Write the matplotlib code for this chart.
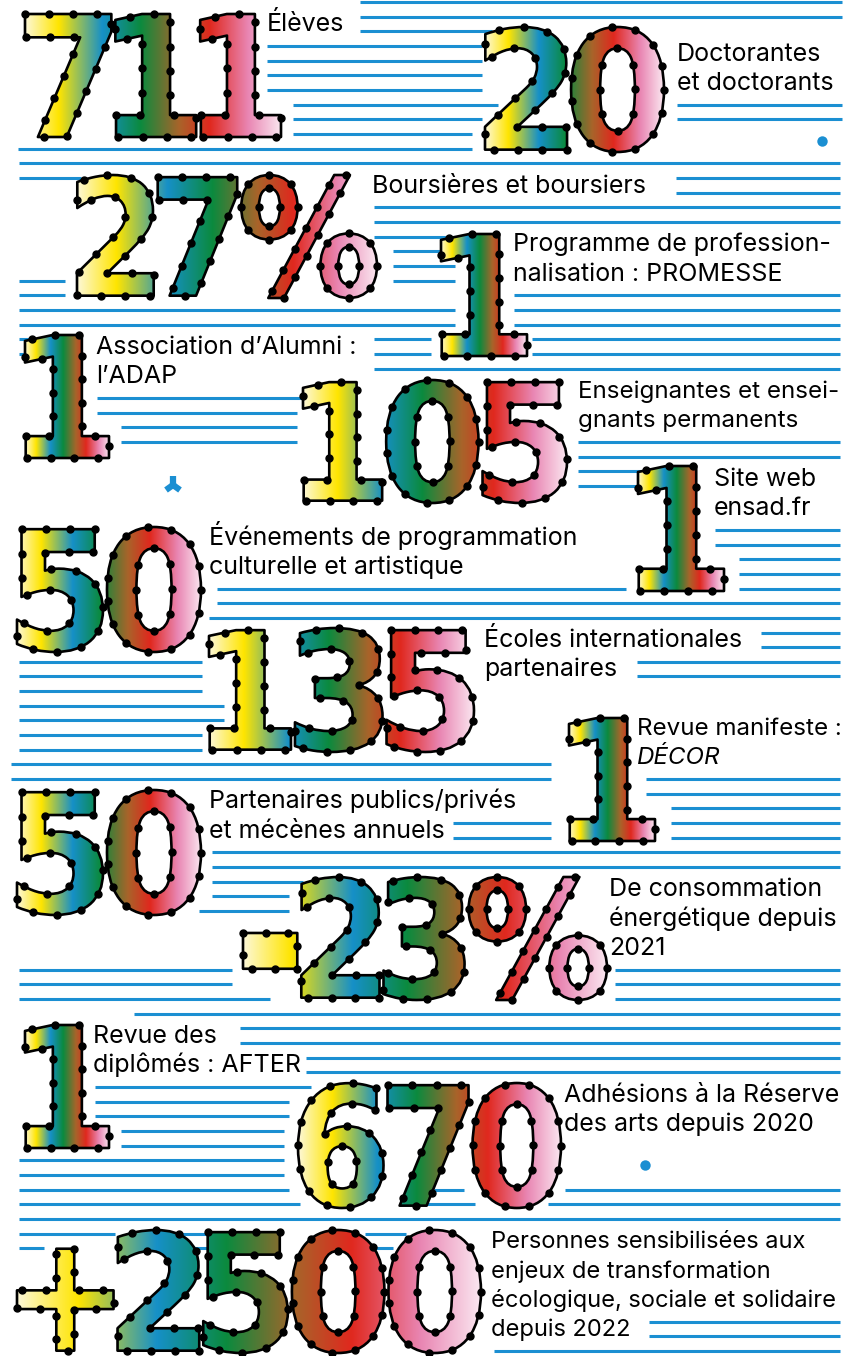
import numpy as np
import matplotlib
matplotlib.use("Agg")
import matplotlib.pyplot as plt
from matplotlib.textpath import TextPath
from matplotlib.font_manager import FontProperties
from matplotlib.patches import PathPatch
from matplotlib.path import Path as MPath
from matplotlib.transforms import Affine2D
from matplotlib.colors import LinearSegmentedColormap

# --- chiffres clés et libellés ---
numbers = ["711", "20", "27%", "1", "1", "105", "1", "50", "135", "1",
           "50", "-23%", "1", "670", "+2500"]
labels = [
    ["Élèves"],
    ["Doctorantes", "et doctorants"],
    ["Boursières et boursiers"],
    ["Programme de profession-", "nalisation : PROMESSE"],
    ["Association d’Alumni :", "l’ADAP"],
    ["Enseignantes et ensei-", "gnants permanents"],
    ["Site web", "ensad.fr"],
    ["Événements de programmation", "culturelle et artistique"],
    ["Écoles internationales", "partenaires"],
    ["Revue manifeste :", "DÉCOR"],
    ["Partenaires publics/privés", "et mécènes annuels"],
    ["De consommation", "énergétique depuis", "2021"],
    ["Revue des", "diplômés : AFTER"],
    ["Adhésions à la Réserve", "des arts depuis 2020"],
    ["Personnes sensibilisées aux", "enjeux de transformation",
     "écologique, sociale et solidaire", "depuis 2022"],
]

# --- mise en page (pixels, y vers le bas) ---
number_boxes = [
    (25, 14, 281, 137), (485, 27, 664, 152), (77, 175, 377, 298),
    (441, 234, 527, 356), (25, 335, 109, 458), (303, 380, 567, 503),
    (638, 466, 724, 591), (17, 527, 201, 652), (209, 628, 474, 752),
    (569, 718, 655, 841), (17, 790, 201, 915), (243, 877, 607, 1000),
    (25, 1025, 109, 1148), (298, 1083, 561, 1208), (17, 1230, 481, 1353),
]
label_x = [267, 677, 372, 513, 96, 578, 714, 209, 484, 637, 209, 609, 93, 564, 491]
label_row = [2, 4, 13, 17, 24, 27, 33, 37, 44, 50, 55, 61, 71, 75, 85]
label_size = [18, 18, 18, 18, 18, 17.4, 18, 18, 18, 17.4, 18, 18, 18, 18, 17]

# lignes bleues : rangée -> segments (x0, x1)
line_rows = {
    0: [(360, 842)], 1: [(360, 842)], 2: [(360, 492)],
    3: [(267, 482)], 4: [(267, 482)], 5: [(267, 482)], 6: [(267, 482)],
    7: [(293, 498), (677, 842)], 8: [(293, 482), (677, 842)],
    9: [(293, 472)], 10: [(18, 472)], 11: [(19, 840)],
    12: [(19, 81), (676, 840)], 13: [(676, 840)],
    14: [(374, 840)], 15: [(374, 840)], 16: [(374, 455)],
    17: [(393, 455)], 18: [(393, 455)], 19: [(19, 65), (393, 455)],
    20: [(19, 65), (514, 840)], 21: [(19, 455), (514, 840)],
    22: [(19, 455), (514, 840)],
    23: [(19, 49), (374, 431), (532, 840)],
    24: [(19, 41), (374, 431), (532, 840)],
    25: [(374, 840)],
    27: [(97, 319)], 28: [(97, 297)], 29: [(121, 297)],
    30: [(121, 297), (578, 840)], 31: [(578, 840)],
    32: [(578, 660)], 33: [(578, 660)],
    36: [(715, 840)], 37: [(715, 840)], 38: [(739, 840)], 39: [(739, 840)],
    40: [(217, 626), (739, 840)], 41: [(217, 840)], 42: [(209, 840)],
    43: [(761, 840)], 44: [(761, 840)],
    45: [(19, 202), (637, 840)], 46: [(19, 202), (637, 840)],
    47: [(19, 202)], 48: [(19, 224)], 49: [(19, 224)],
    50: [(19, 202)], 51: [(19, 202)],
    52: [(11, 551)], 53: [(11, 551), (646, 840)], 54: [(646, 840)],
    55: [(671, 840)], 56: [(453, 551), (671, 840)], 57: [(453, 551), (671, 840)],
    58: [(212, 840)], 59: [(212, 840)], 60: [(212, 303)],
    61: [(212, 289)], 62: [(199, 289)],
    66: [(19, 232), (615, 840)], 67: [(19, 232), (615, 840)],
    68: [(19, 270), (615, 840)],
    69: [(134, 840)], 70: [(240, 840)], 71: [(240, 840)],
    72: [(306, 840)], 73: [(306, 840)],
    74: [(95, 311)], 75: [(95, 289)], 76: [(95, 289)],
    77: [(121, 284)], 78: [(121, 284)], 79: [(19, 284)], 80: [(19, 284)],
    81: [(19, 289), (434, 464), (565, 840)],
    82: [(19, 300), (425, 475), (548, 840)],
    83: [(19, 840)],
    84: [(19, 115), (180, 218), (365, 406)],
    85: [(19, 44), (191, 218), (365, 393)],
    90: [(649, 840)], 91: [(649, 840)], 92: [(494, 840)],
}

BLUE = "#1b8fd2"
ROW0, ROW_STEP = 2.0, 14.663

grad = LinearSegmentedColormap.from_list("ensad", [
    (0.00, "#fdf8d6"), (0.13, "#ffe500"), (0.30, "#1690c8"),
    (0.45, "#0b8a3e"), (0.60, "#a8642a"), (0.72, "#e0281e"),
    (0.87, "#e986b3"), (1.00, "#fbe8f1")])

fig = plt.figure(figsize=(8.55, 13.56), dpi=100)
ax = fig.add_axes([0, 0, 1, 1])
ax.axis("off")


def row_y(k):
    return ROW0 + ROW_STEP * k


# fond de lignes
for k, segs in line_rows.items():
    for x0, x1 in segs:
        ax.plot([x0, x1], [row_y(k)] * 2, color=BLUE, lw=2.2,
                solid_capstyle="butt", zorder=1)

# petits éléments bleus
ax.plot([822, 645], [141, 1165], "o", color=BLUE, ms=7.5, mec="none", zorder=1)
ax.plot([173], [485], marker="2", color=BLUE, ms=13, mew=4.5, zorder=1)

fp = FontProperties(family="DejaVu Sans", weight="bold")
GAP = 4  # px entre deux chiffres


def big_number(s, box):
    x0, y0, x1, y1 = box
    glyphs = [TextPath((0, 0), c, size=100, prop=fp) for c in s]
    # le tiret est épaissi pour ressembler à la référence
    for i, c in enumerate(s):
        if c == "-":
            e = glyphs[i].get_extents()
            cy = (e.y0 + e.y1) / 2
            glyphs[i] = Affine2D().translate(0, -cy).scale(1.2, 1.55).translate(0, cy).transform_path(glyphs[i])
    exts = [g.get_extents() for g in glyphs]
    top = max(e.y1 for e in exts)
    bot = min(e.y0 for e in exts)
    total = sum(e.width for e in exts)
    sx = (x1 - x0 - GAP * (len(s) - 1)) / total
    sy = (y1 - y0) / (top - bot)
    parts = []
    cursor = x0
    for g, e in zip(glyphs, exts):
        tr = Affine2D().translate(-e.x0, -top).scale(sx, -sy).translate(cursor, y0)
        parts.append(tr.transform_path(g))
        cursor += e.width * sx + GAP
    path = MPath.make_compound_path(*parts)
    patch = PathPatch(path, facecolor="none", edgecolor="black", lw=1.9,
                      joinstyle="round", zorder=3)
    ax.add_patch(patch)
    im = ax.imshow(np.linspace(0, 1, 256).reshape(1, -1), cmap=grad,
                   extent=(x0, x1, y1, y0), aspect="auto",
                   interpolation="bilinear", zorder=2)
    im.set_clip_path(patch)
    # points noirs le long du contour
    for poly in path.to_polygons(closed_only=True):
        seg = np.diff(poly, axis=0)
        d = np.concatenate([[0], np.cumsum(np.hypot(seg[:, 0], seg[:, 1]))])
        n = max(4, int(round(d[-1] / 24)))
        t = np.linspace(0, d[-1], n, endpoint=False)
        ax.plot(np.interp(t, d, poly[:, 0]), np.interp(t, d, poly[:, 1]),
                "o", color="black", ms=5, zorder=4)


for s, box in zip(numbers, number_boxes):
    big_number(s, box)

# libellés
for lines, x, r, fs in zip(labels, label_x, label_row, label_size):
    for i, txt in enumerate(lines):
        style = "italic" if txt == "DÉCOR" else "normal"
        ax.text(x, row_y(r + 2 * i), txt, fontsize=fs, family="Inter",
                style=style, va="baseline", ha="left", color="black", zorder=5)

ax.set_xlim(0, 855)
ax.set_ylim(1356, 0)
fig.savefig("out.png", dpi=100, facecolor="white")
